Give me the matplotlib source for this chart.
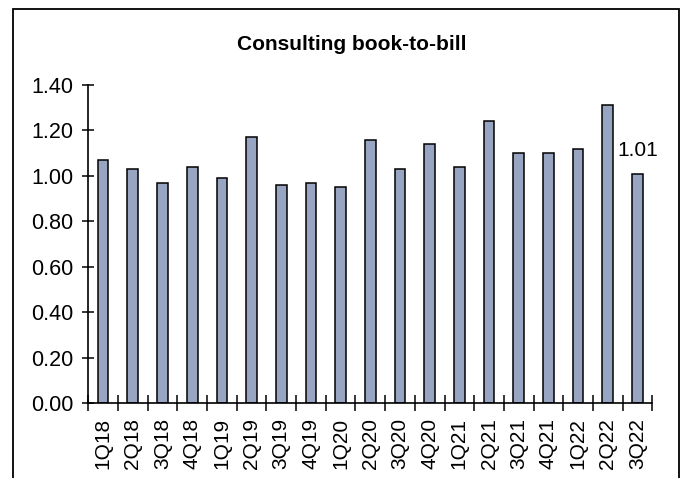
import matplotlib
matplotlib.use("Agg")
import matplotlib.pyplot as plt
from matplotlib.patches import Rectangle
import numpy as np

plt.rcParams['font.family'] = ['Liberation Sans', 'DejaVu Sans']

quarters = ["1Q18", "2Q18", "3Q18", "4Q18", "1Q19", "2Q19", "3Q19", "4Q19", "1Q20",
            "2Q20", "3Q20", "4Q20", "1Q21", "2Q21", "3Q21", "4Q21", "1Q22", "2Q22", "3Q22"]
book_to_bill = [1.07, 1.03, 0.97, 1.04, 0.99, 1.17, 0.96, 0.97, 0.95,
                1.16, 1.03, 1.14, 1.04, 1.24, 1.10, 1.10, 1.12, 1.31, 1.01]
yticks = [0.0, 0.2, 0.4, 0.6, 0.8, 1.0, 1.2, 1.4]
title = "Consulting book-to-bill"

W, H = 684, 478
fig = plt.figure(figsize=(W / 100, H / 100), dpi=100)

# outer frame (bottom edge runs off the image)
frame = Rectangle((13 / W, -0.2), (679 - 13) / W, 1.2 - 9 / H,
                  transform=fig.transFigure, fill=False, edgecolor="black",
                  linewidth=1.3, clip_on=False)
fig.patches.append(frame)

left, right = 88.3 / W, 652.3 / W
bottom, top = (H - 403) / H, (H - 85) / H
ax = fig.add_axes([left, bottom, right - left, top - bottom])

x = np.arange(len(quarters))
bars = ax.bar(x, book_to_bill, width=0.36, color="#97A5C3", edgecolor="black",
              linewidth=1.1, zorder=2)

ax.set_xlim(-0.5, len(quarters) - 0.5)
ax.set_ylim(0, 1.4)
ax.set_yticks(yticks)
ax.set_yticklabels([f"{v:.2f}" for v in yticks], fontsize=15.5)

ax.set_xticks(np.arange(len(quarters) + 1) - 0.5)
ax.set_xticklabels([])
ax.set_xticks(x, minor=True)
ax.set_xticklabels(quarters, minor=True, rotation=90, fontsize=15)
ax.tick_params(axis="x", which="minor", length=0, pad=11)
ax.tick_params(axis="x", which="major", direction="inout", length=12, width=1.1)
ax.tick_params(axis="y", direction="inout", length=8, width=1.1, pad=7)

for s in ["top", "right"]:
    ax.spines[s].set_visible(False)
for s in ["left", "bottom"]:
    ax.spines[s].set_linewidth(1.2)

# data label on last bar
ax.annotate(f"{book_to_bill[-1]:.2f}", xy=(x[-1], book_to_bill[-1]),
            xytext=(0, 10), textcoords="offset points", ha="center", va="bottom",
            fontsize=15)

fig.text(352 / W, 1 - 44 / H, title, ha="center", va="center",
         fontsize=15, fontweight="bold")

fig.savefig("out.png", dpi=100)
